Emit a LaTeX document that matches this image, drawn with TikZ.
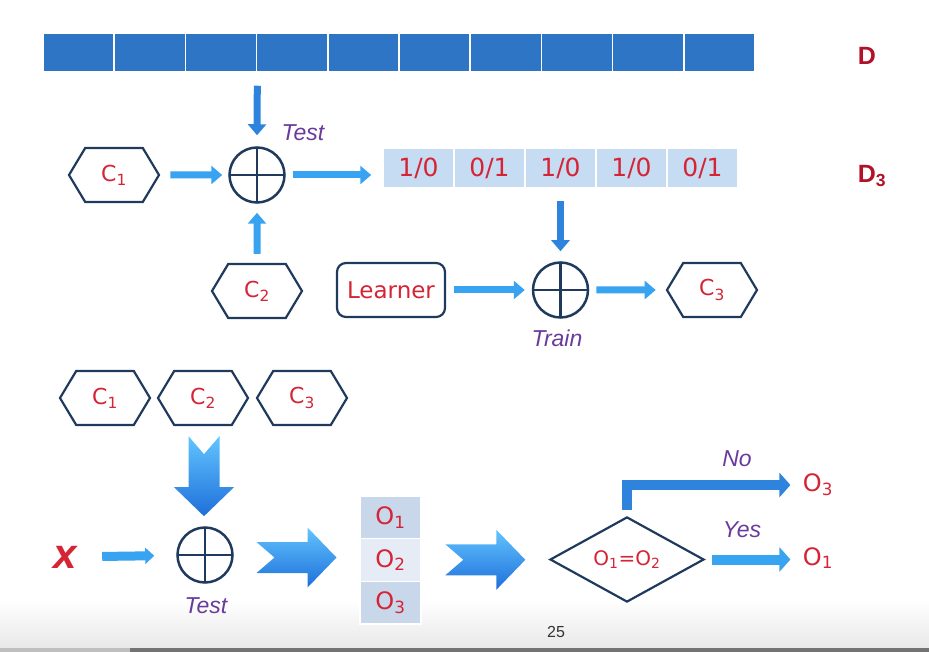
\documentclass[tikz,border=0pt]{standalone}
\usepackage{fontspec}
\setmainfont{DejaVu Sans}
\newfontfamily\arialfont{Liberation Sans}
\usetikzlibrary{arrows.meta,shapes.geometric,shapes.symbols,calc}

\definecolor{barblue}{HTML}{2E75C6}
\definecolor{arrowblue}{HTML}{37A3F1}
\definecolor{downblue}{HTML}{2E84DC}
\definecolor{navy}{HTML}{1F3A5C}
\definecolor{cellblue}{HTML}{C6DCF2}
\definecolor{cellmid}{HTML}{C9D7EB}
\definecolor{cellpale}{HTML}{E5ECF6}
\definecolor{labelred}{HTML}{D42436}
\definecolor{darkred}{HTML}{B01228}
\definecolor{notepurple}{HTML}{6A3A9C}
\definecolor{fatlight}{HTML}{62C4FF}
\definecolor{fatmid}{HTML}{3D9DF0}
\definecolor{fatdark}{HTML}{1E6FD9}

\tikzset{
  hexbox/.style={signal, signal to=east and west, signal pointer angle=118,
    draw=navy, line width=2.2pt, minimum width=90pt, minimum height=54pt,
    inner sep=0pt, text=labelred, font=\fontsize{22}{26}\selectfont},
  plusnode/.style={circle, draw=navy, line width=2.5pt, minimum size=55pt, inner sep=0pt,
    path picture={\draw[navy, line width=2.4pt]
      (path picture bounding box.north) -- (path picture bounding box.south)
      (path picture bounding box.west) -- (path picture bounding box.east);}},
  barcell/.style={fill=barblue, draw=white, line width=1.5pt, minimum width=71.2pt,
    minimum height=39pt, inner sep=0pt},
  tabcell/.style={fill=cellblue, draw=white, line width=1.5pt, minimum width=71pt,
    minimum height=40pt, inner sep=0pt, text=labelred, font=\fontsize{25}{28}\selectfont},
  ocell/.style={draw=white, line width=1.5pt, minimum width=61pt, minimum height=42.7pt,
    inner sep=0pt, text=labelred, font=\fontsize{24}{28}\selectfont},
  note/.style={text=notepurple, font=\arialfont\itshape\fontsize{23}{26}\selectfont},
  dname/.style={text=darkred, font=\arialfont\bfseries\fontsize{25}{28}\selectfont},
  thinarr/.style={draw=arrowblue, line width=7pt, -{Triangle[length=11pt,width=18pt]}},
  widearr/.style={draw=arrowblue, line width=10pt, line join=miter,
    -{Triangle[length=11pt,width=24pt]}},
  fatarrow/.style={top color=fatlight, middle color=fatmid, bottom color=fatdark},
  fatright/.pic={\path[fatarrow] (-40,-15.5) -- (11,-15.5) -- (11,-30) -- (40,0) -- (11,30)
    -- (11,15.5) -- (-40,15.5) -- (-22,0) -- cycle;}
}

\begin{document}
\begin{tikzpicture}[x=1pt,y=-1pt]

    \useasboundingbox (0,0) rectangle (929,652);
    \fill[top color=white, bottom color=black!9] (0,600) rectangle (929,648);
    \fill[black!55] (0,648) rectangle (929,652);
    \fill[black!25] (0,648) rectangle (130,652);

    % data set D and its labels
    \foreach \i in {1,...,10}
        \node[barcell] (d\i) at ({43+71.2*(\i-0.5)},52.5) {};
    \node[dname] (dD) at (867,56) {D};
    \node[dname] (dD3) at (872,176) {D\textsubscript{3}};

    % top row: test C1 on D
    \node[hexbox] (c1a) at (114,175) {C\textsubscript{1}};
    \node[plusnode] (p1) at (257,175) {};
    \node[note] (test1) at (303,133) {Test};
    \node[hexbox] (c2a) at (257,291) {C\textsubscript{2}};
    \foreach \a/\b [count=\i] in {1/0,0/1,1/0,1/0,0/1}
        \node[tabcell] (t\i) at ({383+71*(\i-0.5)},168) {\a/\b};

    \draw[thinarr, draw=downblue, shorten <=13pt, shorten >=11pt] (d3.south east) -- (p1.north);
    \draw[thinarr, shorten <=10pt, shorten >=6pt] (c1a) -- (p1);
    \draw[thinarr, shorten <=9pt, shorten >=9pt] (c2a) -- (p1);
    \draw[thinarr, shorten <=7pt, shorten >=11pt] (p1.east) -- (p1.east -| t1.west);

    % train C3 on D3
    \node[draw=navy, line width=2.2pt, rounded corners=9pt, minimum width=108pt, minimum height=54pt,
        text=labelred, font=\fontsize{23}{26}\selectfont] (lrn) at (391,290) {Learner};
    \node[plusnode] (p2) at (560.5,290) {};
    \node[note] (train) at (557,338) {Train};
    \node[hexbox] (c3a) at (712,290) {C\textsubscript{3}};

    \draw[thinarr, draw=downblue, shorten <=12pt, shorten >=10pt] (t3) -- (p2);
    \draw[thinarr, shorten <=8pt, shorten >=7pt] (lrn) -- (p2);
    \draw[thinarr, shorten <=7pt, shorten >=10pt] (p2) -- (c3a);

    % bottom: combine C1, C2, C3 on x
    \node[hexbox] (c1b) at (105,398) {C\textsubscript{1}};
    \node[hexbox] (c2b) at (203,398) {C\textsubscript{2}};
    \node[hexbox] (c3b) at (302,398) {C\textsubscript{3}};
    \node[text=labelred, font={\arialfont\bfseries\itshape\fontsize{42}{44}\selectfont}] (xin) at (65,557) {x};
    \node[plusnode] (p3) at (205,555) {};
    \node[note] (test2) at (206,606) {Test};
    \foreach \k/\shade in {1/cellmid,2/cellpale,3/cellmid}
        \node[ocell, fill=\shade] (o\k) at (390.5,{496+42.7*(\k-0.5)}) {O\textsubscript{\k}};
    \node[diamond, draw=navy, line width=2.2pt, minimum width=154pt, minimum height=77pt,
        inner sep=0pt, text=labelred, font=\fontsize{20}{24}\selectfont]
        (dia) at (627,559.5) {O\textsubscript{1}=O\textsubscript{2}};
    \node[text=labelred, font=\fontsize{24}{28}\selectfont] (no3) at (818,485) {O\textsubscript{3}};
    \node[text=labelred, font=\fontsize{24}{28}\selectfont] (yes1) at (818,558) {O\textsubscript{1}};
    \node[note] (nolbl) at (737,459) {No};
    \node[note] (yeslbl) at (742,530) {Yes};

    \pic[rotate=-90] at ($(c2b.south)!0.5!(p3.north)$) {fatright};
    \pic at ($(p3.east)!0.5!(o2.west)$) {fatright};
    \pic at ($(o2.east)!0.5!(dia.west)$) {fatright};

    \draw[draw=arrowblue, line width=9pt, -{Triangle[length=9pt,width=16pt]},
        shorten <=22pt, shorten >=22pt] (xin) -- (p3);
    \draw[widearr, shorten <=7pt, shorten >=9pt] (dia.east) -- (dia.east -| yes1.west);
    \draw[widearr, draw=downblue, shorten <=6pt, shorten >=9pt] (dia.north) |- (no3.west);

    \node[text=black!80, font=\arialfont\fontsize{16}{18}\selectfont] (pg) at (556,632) {25};

\end{tikzpicture}
\end{document}
